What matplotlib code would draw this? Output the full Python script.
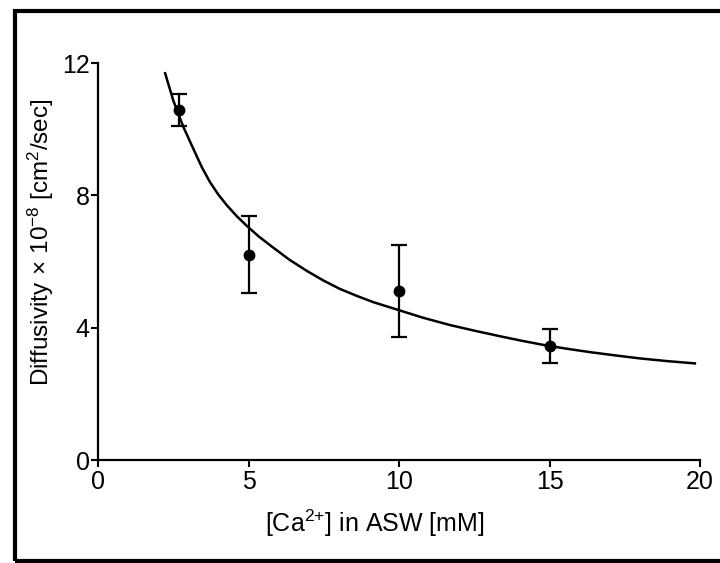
import matplotlib
matplotlib.use("Agg")
import matplotlib.pyplot as plt
from matplotlib.patches import Rectangle

plt.rcParams['font.family'] = ['Liberation Sans', 'DejaVu Sans']
plt.rcParams['mathtext.fontset'] = 'custom'
plt.rcParams['mathtext.rm'] = 'Liberation Sans'
plt.rcParams['mathtext.it'] = 'Liberation Sans:italic'
plt.rcParams['mathtext.bf'] = 'Liberation Sans:bold'

# Measured data points
ca_conc = [2.7, 5.0, 10.0, 15.0]
diffusivity = [10.57, 6.19, 5.11, 3.45]
err_upper = [11.05, 7.38, 6.50, 3.96]
err_lower = [10.10, 5.04, 3.71, 2.93]

# Fitted curve
fit_x = [2.23, 2.5, 2.83, 3.17, 3.45, 3.72, 4.0, 4.28, 4.6, 4.94, 5.35, 5.82, 6.35,
         6.93, 7.5, 8.04, 8.6, 9.15, 10.03, 10.8, 11.69, 12.5, 13.36, 14.1, 14.85,
         15.6, 16.35, 17.2, 18.01, 18.9, 19.83]
fit_y = [11.69, 10.87, 10.08, 9.40, 8.85, 8.40, 8.02, 7.70, 7.38, 7.08, 6.75, 6.42, 6.06,
         5.72, 5.42, 5.17, 4.96, 4.77, 4.52, 4.30, 4.08, 3.91, 3.74, 3.60, 3.47,
         3.36, 3.26, 3.16, 3.07, 2.99, 2.92]

x_ticks = [0, 5, 10, 15, 20]
y_ticks = [0, 4, 8, 12]

fig = plt.figure(figsize=(7.2, 5.63), dpi=100)
ax = fig.add_axes([98/720, 1 - 460/563, 602/720, 397/563])

ax.plot(fit_x, fit_y, color='black', lw=1.8, zorder=2, solid_joinstyle='round')
yerr = [[d - l for d, l in zip(diffusivity, err_lower)],
        [u - d for u, d in zip(err_upper, diffusivity)]]
ax.errorbar(ca_conc, diffusivity, yerr=yerr, fmt='o', color='black',
            markersize=7.5, elinewidth=1.6, capsize=6, capthick=1.6, zorder=3)

ax.set_xlim(0, 20)
ax.set_ylim(0, 12)
ax.set_xticks(x_ticks)
ax.set_yticks(y_ticks)
ax.spines['top'].set_visible(False)
ax.spines['right'].set_visible(False)
for s in ['left', 'bottom']:
    ax.spines[s].set_linewidth(1.6)
ax.tick_params(direction='out', length=5, width=1.5, labelsize=18, pad=2)
ax.tick_params(axis='y', pad=1)
for sp in ax.spines.values():
    sp.set_clip_on(False)

ax.set_xlabel(r'[Ca$^{2{+}}$] in ASW [mM]', fontsize=18, labelpad=10, x=0.46)
ax.set_ylabel(r'Diffusivity$\,\times\,$10$^{-8}$ [cm$^2$/sec]', fontsize=17.5)
ax.yaxis.set_label_coords(-0.069, 0.549)

fig.patches.append(Rectangle((15/720, 2/563), 1.0, 1 - 13/563, transform=fig.transFigure,
                             fill=False, edgecolor='black', lw=3, figure=fig))

fig.savefig('out.png', dpi=100)
